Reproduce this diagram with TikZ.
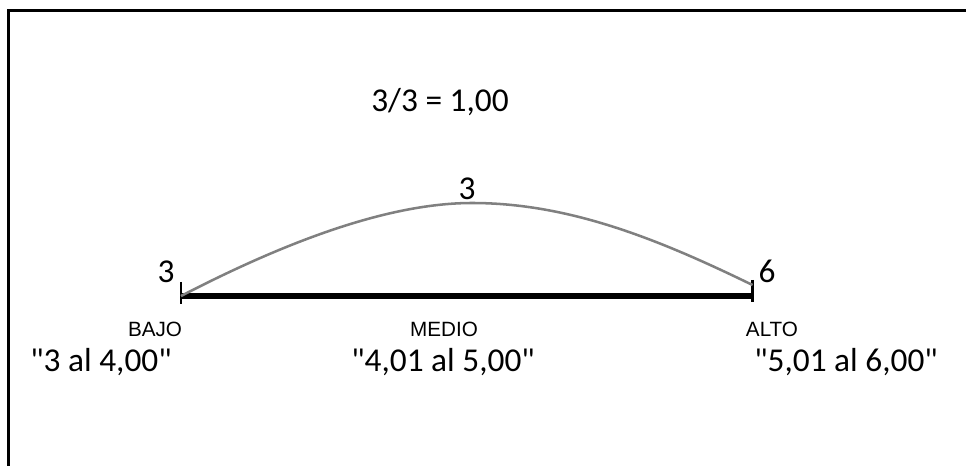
\documentclass[tikz,border=0pt]{standalone}
\usepackage{fontspec}
\setmainfont{Carlito}
\newfontfamily\levelfont{Liberation Sans}
\definecolor{curvegray}{RGB}{128,128,128}

\begin{document}
\begin{tikzpicture}[x=0.75pt, y=-0.75pt,
  value/.style={font=\fontsize{25}{30}\selectfont, anchor=base, inner sep=0pt},
  level/.style={font=\levelfont\fontsize{15.5}{18}\selectfont, anchor=base, inner sep=0pt}]
  \useasboundingbox (0,0) rectangle (966,466);
  % frame (only top and left edges show)
  \draw[line width=2.25pt] (8.5,466) -- (8.5,10.5) -- (966,10.5);
  % scale bar with end ticks
  \coordinate (low) at (181,296);
  \coordinate (high) at (752.5,296);
  \coordinate (lowtop) at (181,282);
  \coordinate (lowbot) at (181,304);
  \coordinate (hightop) at (752.5,280);
  \coordinate (highbot) at (752.5,302);
  \draw[line width=4pt] (low) -- (high);
  \draw[line width=1.6pt] (lowtop) -- (lowbot);
  \draw[line width=1.6pt] (hightop) -- (highbot);
  % smooth gray curve
  \coordinate (peak) at (472,203);
  \coordinate (curveend) at (752.5,285);
  \draw[curvegray, line width=1.9pt]
    (low) .. controls (270,250) and (380,203) .. (peak)
    .. controls (570,203) and (660,240) .. (curveend);
  % values
  \node[value] (ratio) at (440,112) {3/3 = 1,00};
  \node[value] (midval) at (467,200) {3};
  \node[value] (lowval) at (166,283) {3};
  \node[value] (highval) at (767,282) {6};
  % levels
  \node[level] (bajo) at (155,336) {BAJO};
  \node[level] (medio) at (444,336) {MEDIO};
  \node[level] (alto) at (772,336) {ALTO};
  % ranges
  \node[value] (lowrange) at (101,371) {\textquotedbl3 al 4,00\textquotedbl};
  \node[value] (midrange) at (443,371) {\textquotedbl4,01 al 5,00\textquotedbl};
  \node[value] (highrange) at (846,371) {\textquotedbl5,01 al 6,00\textquotedbl};
\end{tikzpicture}
\end{document}
